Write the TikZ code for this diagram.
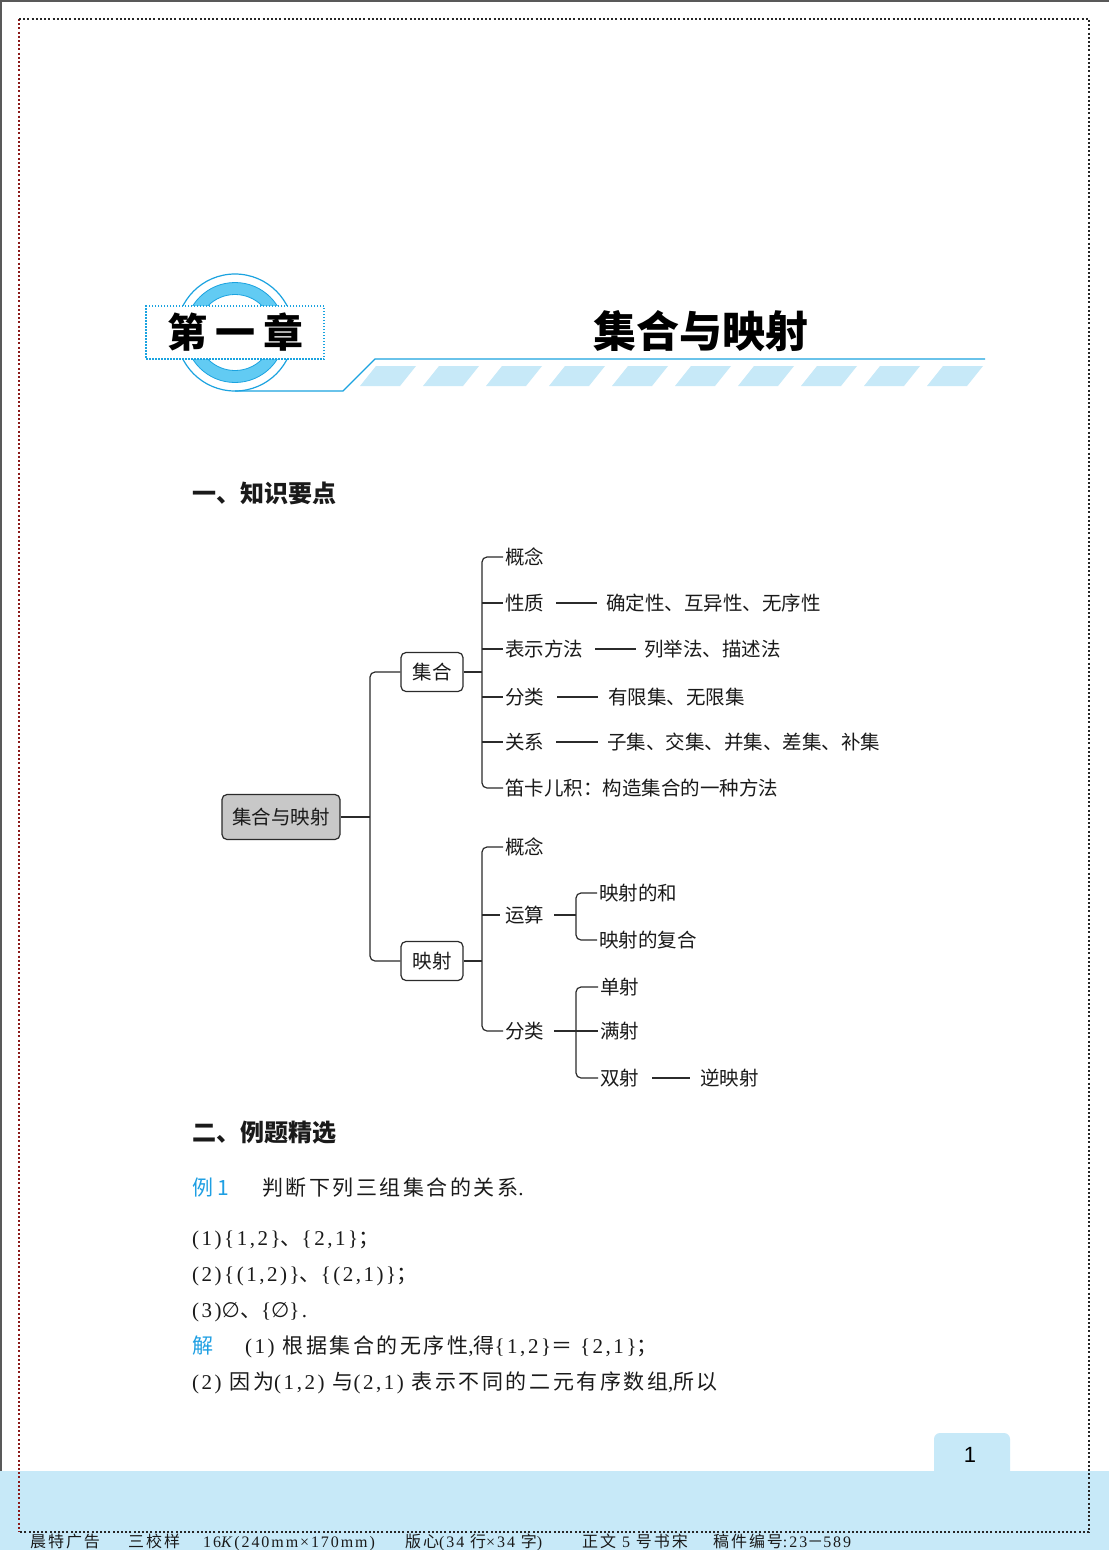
\documentclass[tikz,border=0pt]{standalone}
\usepackage{fontspec}
\setmainfont{Liberation Serif}
\newfontfamily\cjk{Noto Sans CJK SC}
\newfontfamily\cjkx[LetterSpace=12]{Noto Sans CJK SC}
\newfontfamily\latx[LetterSpace=12]{Liberation Serif}
\newfontfamily\dvs{DejaVu Sans}
\newfontfamily\pagesans{Liberation Sans}
\newcommand\zh[1]{{\cjk #1}}
\newcommand\zx[1]{{\cjkx #1}}
\definecolor{cblue}{HTML}{1BA3E0}
\definecolor{ringfill}{HTML}{62CBF3}
\definecolor{band}{HTML}{C7E9F8}
\definecolor{ablue}{HTML}{1E9FE3}
\definecolor{linec}{HTML}{2B2B2B}
\definecolor{rootfill}{HTML}{C8C8C8}
\definecolor{frred}{HTML}{8B1A1A}
\definecolor{textc}{HTML}{1A1A1A}
\begin{document}
\begin{tikzpicture}[x=1pt,y=-1pt,
  tl/.style={draw=linec, line width=1.2pt},
  rc/.style={rounded corners=5pt},
  mbox/.style={draw=linec, line width=1.2pt, rounded corners=5pt, minimum height=39pt, minimum width=62pt, inner sep=0pt, fill=white, text=textc, font=\cjk\fontsize{19.5}{20}\selectfont},
  leaf/.style={anchor=west, inner sep=2pt, text=textc, font=\cjk\fontsize{19.5}{20}\selectfont},
  txt/.style={anchor=base west, inner sep=0pt, text=textc, font=\latx\fontsize{21}{24}\selectfont},
  foot/.style={anchor=base west, inner sep=0pt, text=textc, font=\latx\fontsize{16}{18}\selectfont},
  sect/.style={anchor=west, inner sep=0pt, text=textc, font=\cjk\bfseries\fontsize{24}{26}\selectfont},
  dotline/.style={line width=1.3pt, dash pattern=on 2pt off 2.2pt}
]
\useasboundingbox (0,0) rectangle (1109,1550);
\fill[white] (0,0) rectangle (1109,1550);
% outer page edges
\draw[gray!70!black, line width=2pt] (0,1) -- (1109,1);
\draw[gray!70!black, line width=2pt] (1,0) -- (1,1550);
% footer band and page tab
\fill[band] (0,1471) rectangle (1109,1550);
\fill[band, rounded corners=6pt] (934,1485) -- (934,1433) -- (1010,1433) -- (1010,1485) -- cycle;
\node[inner sep=0pt, font=\pagesans\fontsize{22}{22}\selectfont, text=black] (pg) at (970,1455) {1};
% frame
\draw[dotline, draw=frred] (19,19) -- (19,1532);
\draw[dotline, draw=black!85] (19,19) -- (1089,19) -- (1089,1532) -- (19,1532);
% footer text
\node[foot] (f1) at (30,1547) {\zx{晨特广告}};
\node[foot] (f2) at (128,1547) {\zx{三校样}};
\node[foot] (f3) at (203,1547) {16\textit{K}(240mm×170mm)};
\node[foot] (f4) at (405,1547) {\zx{版心}(34 \zx{行}×34 \zx{字})};
\node[foot] (f5) at (582,1547) {\zx{正文} 5 \zx{号书宋}};
\node[foot] (f6) at (713,1547) {\zx{稿件编号}:23\zx{－}589};

% ===== header =====
\coordinate (cc) at (235,332.5);
\draw[cblue, line width=1.2pt] (cc) circle (58.5);
\fill[ringfill, even odd rule] (cc) circle (50) (cc) circle (38);
\draw[cblue, line width=0.8pt] (cc) circle (50) (cc) circle (38);
\node[draw=cblue, line width=1.2pt, dash pattern=on 1.5pt off 1.5pt, fill=white, minimum width=178pt, minimum height=53pt, inner sep=0pt] (chap) at (235,332.5) {};
\node[inner sep=0pt, text=black, font=\cjk\bfseries\fontsize{40}{40}\selectfont] (chapt) at (chap.center) {第\hspace{8pt}一\hspace{8pt}章};
\coordinate (l0) at (235,391);
\coordinate (l1) at (343,391);
\coordinate (l2) at (375,359);
\coordinate (l3) at (985,359);
\draw[cblue, line width=1.2pt] (l0) -- (l1) -- (l2) -- (l3);
\foreach \k in {0,...,9}{
  \fill[band] ({360+63*\k},386) -- ++(40,0) -- ++(16,-20) -- ++(-40,0) -- cycle;
}
\node[inner sep=0pt, text=black, font=\cjk\bfseries\fontsize{43}{43}\selectfont] (title) at (701,331) {集合与映射};

% ===== section 1 =====
\node[sect] (s1) at (192,493) {一、知识要点};

% ===== tree =====
\node[mbox, fill=rootfill, minimum width=118pt, minimum height=45pt] (root) at (281,817) {集合与映射};
\node[mbox] (jh) at (432,672) {集合};
\node[mbox] (ys) at (432,961) {映射};
\coordinate (b0) at (370,817);
\draw[tl] (root.east) -- (b0);
\draw[tl, rc] (jh.west) -| (b0) |- (ys.west);

% 集合 branch
\node[leaf] (c1) at (503,557) {概念};
\node[leaf] (c2) at (503,603) {性质};
\node[leaf] (c3) at (503,649) {表示方法};
\node[leaf] (c4) at (503,697) {分类};
\node[leaf] (c5) at (503,742) {关系};
\node[leaf] (c6) at (503,788) {笛卡儿积：构造集合的一种方法};
\node[leaf] (d2) at (604,603) {确定性、互异性、无序性};
\node[leaf] (d3) at (642,649) {列举法、描述法};
\node[leaf] (d4) at (606,697) {有限集、无限集};
\node[leaf] (d5) at (605,742) {子集、交集、并集、差集、补集};
\coordinate (bj) at (482,672);
\draw[tl] (jh.east) -- (bj);
\draw[tl, rc] (c1.west) -| (bj) |- (c6.west);
\foreach \n in {c2,c3,c4,c5}{ \draw[tl] (bj |- \n.west) -- (\n.west); }
\draw[tl, shorten <=10pt, shorten >=7pt] (c2.east) -- (d2.west);
\draw[tl, shorten <=10pt, shorten >=6pt] (c3.east) -- (d3.west);
\draw[tl, shorten <=11pt, shorten >=8pt] (c4.east) -- (d4.west);
\draw[tl, shorten <=10pt, shorten >=7pt] (c5.east) -- (d5.west);

% 映射 branch
\node[leaf] (e1) at (503,847) {概念};
\node[leaf] (e2) at (503,915) {运算};
\node[leaf] (e3) at (503,1031) {分类};
\coordinate (by) at (482,961);
\draw[tl] (ys.east) -- (by);
\draw[tl, rc] (e1.west) -| (by) |- (e3.west);
\draw[tl, shorten >=3pt] (by |- e2.west) -- (e2.west);

\node[leaf] (f1n) at (597,893) {映射的和};
\node[leaf] (f2n) at (597,940) {映射的复合};
\coordinate (bs) at (576,915);
\draw[tl, shorten <=8pt] (e2.east) -- (bs);
\draw[tl, rc] (f1n.west) -| (bs) |- (f2n.west);

\node[leaf] (g1) at (598,987) {单射};
\node[leaf] (g2) at (598,1031) {满射};
\node[leaf] (g3) at (598,1078) {双射};
\node[leaf] (h1) at (698,1078) {逆映射};
\coordinate (bf) at (576,1031);
\draw[tl, rc] (g1.west) -| (bf) |- (g3.west);
\draw[tl, shorten <=8pt] (e3.east) -- (g2.west);
\draw[tl, shorten <=11pt, shorten >=8pt] (g3.east) -- (h1.west);

% ===== section 2 =====
\node[sect] (s2) at (192,1133) {二、例题精选};
\node[txt] (x1a) at (192,1195) {\zh{\color{ablue}例 1}};
\node[txt] (x1b) at (262,1195) {\zx{判断下列三组集合的关系}.};
\node[txt] (x2) at (192,1245) {(1)\{1,2\}\zx{、}\{2,1\}\zx{；}};
\node[txt] (x3) at (192,1281) {(2)\{(1,2)\}\zx{、}\{(2,1)\}\zx{；}};
\node[txt] (x4) at (192,1317) {(3){\dvs ∅}\zx{、}\{{\dvs ∅}\}.};
\node[txt] (x5a) at (192,1353) {\zh{\color{ablue}解}};
\node[txt] (x5b) at (245,1353) {(1)\hspace{8pt}\zx{根据集合的无序性},\zx{得}\{1,2\}\zx{＝}\hspace{8pt}\{2,1\}\zx{；}};
\node[txt] (x6) at (192,1389) {(2)\hspace{8pt}\zx{因为}(1,2)\hspace{8pt}\zx{与}(2,1)\hspace{8pt}\zx{表示不同的二元有序数组},\zx{所以}};
\end{tikzpicture}
\end{document}
